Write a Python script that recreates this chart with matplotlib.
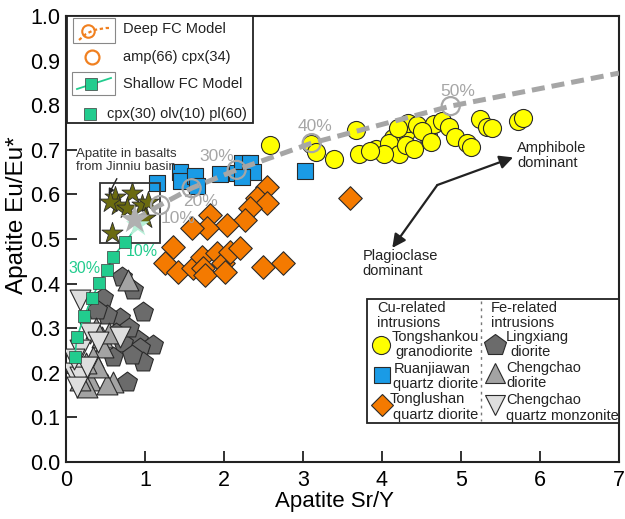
import matplotlib
matplotlib.use("Agg")
import matplotlib.pyplot as plt
from matplotlib.patches import Rectangle

plt.rcParams['font.family'] = ['Liberation Sans', 'DejaVu Sans']

# ---------------- data ----------------
# Tongshankou granodiorite (Cu-related)
tsk_x = [2.58, 3.10, 3.17, 3.39, 3.67, 3.71, 3.92, 4.10, 4.14, 4.09, 4.22, 4.30, 4.33,
         4.44, 4.30, 4.40, 4.58, 4.66, 4.76, 4.85, 4.93, 5.08, 5.13, 5.24, 5.33, 5.39,
         5.72, 5.78, 4.50, 4.02, 4.20, 4.62, 3.85]
tsk_y = [0.711, 0.713, 0.695, 0.680, 0.744, 0.690, 0.702, 0.703, 0.727, 0.715, 0.690,
         0.740, 0.760, 0.756, 0.711, 0.702, 0.730, 0.757, 0.765, 0.751, 0.728, 0.715,
         0.706, 0.768, 0.752, 0.748, 0.765, 0.772, 0.742, 0.690, 0.748, 0.718, 0.697]

# Ruanjiawan quartz diorite (Cu-related)
rjw_x = [1.15, 1.44, 1.46, 1.63, 1.66, 1.95, 2.16, 2.23, 2.33, 2.37, 2.23, 3.03]
rjw_y = [0.626, 0.650, 0.630, 0.641, 0.619, 0.646, 0.648, 0.670, 0.670, 0.650, 0.639, 0.652]

# Tonglushan quartz diorite (Cu-related)
tls_x = [2.54, 2.42, 2.54, 2.33, 2.27, 2.04, 1.82, 1.78, 1.59, 1.35, 1.25, 1.42, 1.61,
         1.72, 1.73, 1.76, 1.91, 1.99, 2.08, 2.20, 2.01, 2.49, 2.75, 3.59]
tls_y = [0.617, 0.592, 0.581, 0.570, 0.543, 0.531, 0.554, 0.525, 0.525, 0.482, 0.446,
         0.426, 0.435, 0.460, 0.435, 0.419, 0.469, 0.446, 0.471, 0.480, 0.426, 0.437,
         0.446, 0.592]

# Lingxiang diorite (Fe-related)
lx_x = [0.71, 0.85, 0.47, 0.97, 0.68, 0.52, 0.91, 1.10, 0.94, 0.97, 0.77, 0.72, 0.59,
        0.39, 0.80, 0.63, 0.84]
lx_y = [0.415, 0.386, 0.368, 0.336, 0.323, 0.330, 0.274, 0.262, 0.256, 0.224, 0.179,
        0.267, 0.235, 0.341, 0.300, 0.290, 0.240]

# Chengchao diorite (Fe-related)
ccd_x = [0.78, 0.45, 0.47, 0.34, 0.30, 0.59, 0.27, 0.18, 0.52, 0.41, 0.38, 0.55, 0.25]
ccd_y = [0.408, 0.280, 0.258, 0.235, 0.184, 0.179, 0.168, 0.184, 0.176, 0.213, 0.300,
         0.290, 0.222]

# Chengchao quartz monzonite (Fe-related)
ccq_x = [0.18, 0.30, 0.68, 0.18, 0.09, 0.18, 0.14, 0.27, 0.10, 0.40]
ccq_y = [0.363, 0.289, 0.280, 0.251, 0.200, 0.191, 0.168, 0.213, 0.232, 0.268]

# Apatite in basalts from Jinniu basin
jn_x = [0.84, 0.62, 0.66, 0.56, 0.77, 0.96, 1.04, 0.58, 1.00]
jn_y = [0.603, 0.594, 0.576, 0.583, 0.570, 0.576, 0.583, 0.513, 0.547]

# Starting compositions of the fractional crystallisation models
start_x, start_y = 0.87, 0.543
start2_x, start2_y = 0.91, 0.531

# Deep FC model: amp(66) cpx(34)
deep_x = [1.19, 1.59, 2.16, 3.11, 4.87]
deep_y = [0.576, 0.614, 0.655, 0.715, 0.798]
deep_lbl = ['10%', '20%', '30%', '40%', '50%']
deep_lbl_x = [1.42, 1.70, 1.91, 3.15, 4.96]
deep_lbl_y = [0.547, 0.583, 0.684, 0.753, 0.830]
deep_end_x, deep_end_y = 7.0, 0.872

# Shallow FC model: cpx(30) olv(10) pl(60)
shal_x = [0.75, 0.59, 0.52, 0.42, 0.33, 0.23, 0.14, 0.11]
shal_y = [0.493, 0.460, 0.430, 0.401, 0.368, 0.327, 0.280, 0.235]
shal_lbl = ['10%', '30%']
shal_lbl_x = [0.96, 0.24]
shal_lbl_y = [0.471, 0.433]

x_ticks = [0, 1, 2, 3, 4, 5, 6, 7]
y_ticks = [0.0, 0.1, 0.2, 0.3, 0.4, 0.5, 0.6, 0.7, 0.8, 0.9, 1.0]

# ---------------- colours ----------------
C_YEL = '#ffff00'
C_BLU = '#1a9be6'
C_ORA = '#f47a00'
C_PEN = '#6b6b6b'
C_TRI = '#a3a3a3'
C_INV = '#dedede'
C_GRN = '#22cc8e'
C_STAR = '#6b6b10'
C_DASH = '#a6a6a6'
EDGE = '#2a2a2a'

W, H = 625, 519
fig = plt.figure(figsize=(W / 100, H / 100), dpi=100)
L, R, T, B = 66, 619, 16, 462
ax = fig.add_axes([L / W, 1 - B / H, (R - L) / W, (B - T) / H])
ax.set_xlim(0, 7)
ax.set_ylim(0, 1.0)
ax.set_xticks(x_ticks)
ax.set_yticks(y_ticks)
ax.set_xticklabels([str(v) for v in x_ticks])
ax.set_yticklabels([f'{v:.1f}' for v in y_ticks])
ax.tick_params(direction='in', length=8, width=1.3, labelsize=15.5, color='#222222')
ax.tick_params(axis='y', pad=4)
ax.tick_params(axis='x', pad=6)
for s in ax.spines.values():
    s.set_linewidth(1.5)
    s.set_color('#222222')
ax.set_xlabel('Apatite Sr/Y', fontsize=16)
ax.xaxis.set_label_coords(0.486, -0.064)
ax.set_ylabel('Apatite Eu/Eu*', fontsize=17.5)
ax.yaxis.set_label_coords(-0.068, 0.554)

# Fe-related intrusions
ax.scatter(lx_x, lx_y, marker='p', s=15 ** 2, c=C_PEN, edgecolors=EDGE, linewidths=0.8, zorder=3)
ax.scatter(ccd_x, ccd_y, marker='^', s=15 ** 2, c=C_TRI, edgecolors=EDGE, linewidths=0.8, zorder=3)
ax.scatter(ccq_x, ccq_y, marker='v', s=15 ** 2, c=C_INV, edgecolors=EDGE, linewidths=0.8, zorder=3)

# Cu-related intrusions
ax.scatter(tls_x, tls_y, marker='D', s=12 ** 2, c=C_ORA, edgecolors=EDGE, linewidths=0.8, zorder=4)
ax.scatter(rjw_x, rjw_y, marker='s', s=11 ** 2, c=C_BLU, edgecolors=EDGE, linewidths=0.8, zorder=4)
ax.scatter(tsk_x, tsk_y, marker='o', s=13 ** 2, c=C_YEL, edgecolors=EDGE, linewidths=0.8, zorder=4)

# Jinniu basin basalt apatite
ax.scatter(jn_x, jn_y, marker='*', s=16 ** 2, c=C_STAR, edgecolors=EDGE, linewidths=0.6, zorder=5)
ax.add_patch(Rectangle((0.43, 0.491), 0.76, 0.135, fill=False, ec='#333333', lw=1.3, zorder=5))
ax.annotate('Apatite in basalts\nfrom Jinniu basin', xy=(0.54, 0.600), xytext=(0.76, 0.675),
            ha='center', va='center', fontsize=9.5, color='#333333', linespacing=1.1,
            arrowprops=dict(arrowstyle='-|>', color='#222222', lw=1.0, mutation_scale=8,
                            shrinkA=2, shrinkB=0), zorder=6)

# Deep FC model curve
ax.plot([start_x] + deep_x + [deep_end_x], [start_y] + deep_y + [deep_end_y],
        ls=(0, (2.6, 1.4)), lw=3.6, color=C_DASH, zorder=6)
ax.scatter(deep_x, deep_y, marker='o', s=13 ** 2, facecolors='none', edgecolors=C_DASH,
           linewidths=1.6, zorder=7)
for lbl, tx, ty in zip(deep_lbl, deep_lbl_x, deep_lbl_y):
    ax.text(tx, ty, lbl, fontsize=12.5, color=C_DASH, ha='center', va='center', zorder=8)

# Shallow FC model curve
ax.plot([start2_x] + shal_x, [start2_y] + shal_y, color=C_GRN, lw=1.2, zorder=6)
ax.scatter(shal_x, shal_y, marker='s', s=9 ** 2, c=C_GRN, edgecolors='#3a3a3a',
           linewidths=0.5, zorder=7)
for lbl, tx, ty in zip(shal_lbl, shal_lbl_x, shal_lbl_y):
    ax.text(tx, ty, lbl, fontsize=11.5, color=C_GRN, ha='center', va='center', zorder=8)

# starting compositions
ax.scatter([start2_x], [start2_y], marker='*', s=18 ** 2, c='#b8f0d8', edgecolors='none', zorder=8)
ax.scatter([start_x], [start_y], marker='*', s=22 ** 2, c='#b0b0b0', edgecolors='none', zorder=8)

# fractionation trend arrows
corner = (4.70, 0.621)
ax.annotate('', xy=(5.66, 0.683), xytext=corner,
            arrowprops=dict(arrowstyle='-|>', color='#222222', lw=1.6, mutation_scale=20,
                            shrinkA=0, shrinkB=0))
ax.annotate('', xy=(4.13, 0.480), xytext=corner,
            arrowprops=dict(arrowstyle='-|>', color='#222222', lw=1.6, mutation_scale=20,
                            shrinkA=0, shrinkB=0))
ax.text(5.71, 0.688, 'Amphibole\ndominant', fontsize=10.5, color='#222222', ha='left',
        va='center', linespacing=1.1)
ax.text(3.75, 0.445, 'Plagioclase\ndominant', fontsize=10.5, color='#222222', ha='left',
        va='center', linespacing=1.1)

# ---------------- legends (drawn in figure pixel space) ----------------
lg = fig.add_axes([0, 0, 1, 1], facecolor='none')
lg.set_xlim(0, W)
lg.set_ylim(H, 0)
lg.axis('off')

# upper-left model legend
lg.add_patch(Rectangle((67, 16), 186, 107, fill=True, fc='white', ec='#222222', lw=1.3))
lg.add_patch(Rectangle((73, 18), 42, 25, fill=False, ec='#888888', lw=0.8))
lg.plot([79, 86, 94, 106, 111], [40, 34, 30, 28, 28], ls=(0, (1.5, 1.2)), color='#f08020', lw=1.6)
lg.plot([88], [31], marker='o', ms=9, mfc='none', mec='#f08020', mew=1.5)
lg.text(123, 29, 'Deep FC Model', fontsize=10.5, va='center', ha='left', color='#222222')
lg.plot([92], [57], marker='o', ms=10, mfc='none', mec='#f08020', mew=1.6)
lg.text(123, 57, 'amp(66) cpx(34)', fontsize=10.5, va='center', ha='left', color='#222222')
lg.add_patch(Rectangle((72, 72), 43, 23, fill=False, ec='#888888', lw=0.8))
lg.plot([77, 111], [89, 78], color=C_GRN, lw=1.3)
lg.plot([91], [84], marker='s', ms=9, mfc=C_GRN, mec='#3a3a3a', mew=0.5)
lg.text(123, 84, 'Shallow FC Model', fontsize=10.5, va='center', ha='left', color='#222222')
lg.plot([90], [114], marker='s', ms=8, mfc=C_GRN, mec='#3a3a3a', mew=0.5)
lg.text(107, 114, 'cpx(30) olv(10) pl(60)', fontsize=10.5, va='center', ha='left', color='#222222')

# lower-right intrusion legend
lg.add_patch(Rectangle((367, 299), R - 367, 124, fill=True, fc='white', ec='#222222', lw=1.3))
lg.plot([481, 481], [301, 421], ls=(0, (2, 3)), color='#777777', lw=1.0)
fs = 10.5
lg.text(377, 315.5, 'Cu-related\nintrusions', fontsize=fs, va='center', ha='left', linespacing=1.05, color='#222222')
lg.plot([381], [345], marker='o', ms=13, mfc=C_YEL, mec=EDGE, mew=0.8)
lg.text(392, 337, 'Tongshankou', fontsize=fs, va='center', ha='left', color='#222222')
lg.text(395, 352, 'granodiorite', fontsize=fs, va='center', ha='left', color='#222222')
lg.plot([382], [375], marker='s', ms=11, mfc=C_BLU, mec=EDGE, mew=0.8)
lg.text(394, 369, 'Ruanjiawan', fontsize=fs, va='center', ha='left', color='#222222')
lg.text(393, 384, 'quartz diorite', fontsize=fs, va='center', ha='left', color='#222222')
lg.plot([382], [405], marker='D', ms=11, mfc=C_ORA, mec=EDGE, mew=0.8)
lg.text(390, 399, 'Tonglushan', fontsize=fs, va='center', ha='left', color='#222222')
lg.text(393, 415, 'quartz diorite', fontsize=fs, va='center', ha='left', color='#222222')

lg.text(491, 315.5, 'Fe-related\nintrusions', fontsize=fs, va='center', ha='left', linespacing=1.05, color='#222222')
lg.plot([495], [345], marker='p', ms=16, mfc=C_PEN, mec=EDGE, mew=0.8)
lg.text(506, 337, 'Lingxiang', fontsize=fs, va='center', ha='left', color='#222222')
lg.text(510, 352, 'diorite', fontsize=fs, va='center', ha='left', color='#222222')
lg.plot([495], [373], marker='^', ms=15, mfc=C_TRI, mec=EDGE, mew=0.8)
lg.text(506, 368, 'Chengchao', fontsize=fs, va='center', ha='left', color='#222222')
lg.text(506, 383, 'diorite', fontsize=fs, va='center', ha='left', color='#222222')
lg.plot([495], [405], marker='v', ms=15, mfc=C_INV, mec=EDGE, mew=0.8)
lg.text(506, 400, 'Chengchao', fontsize=fs, va='center', ha='left', color='#222222')
lg.text(506, 416, 'quartz monzonite', fontsize=fs, va='center', ha='left', color='#222222')

fig.savefig('out.png', dpi=100)
